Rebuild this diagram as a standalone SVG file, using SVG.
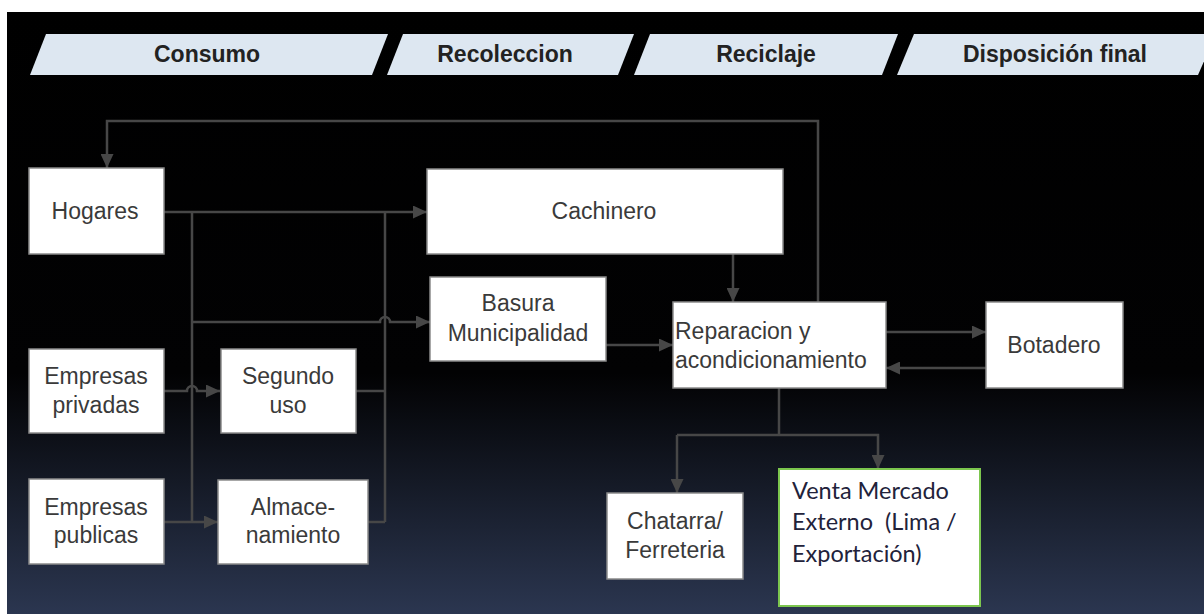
<svg xmlns="http://www.w3.org/2000/svg" width="1204" height="614" viewBox="0 0 1204 614">
<defs>
<linearGradient id="bg" x1="0" y1="0" x2="0" y2="1">
<stop offset="0" stop-color="#000"/>
<stop offset="0.6" stop-color="#020203"/>
<stop offset="1" stop-color="#2b3650"/>
</linearGradient>
<marker id="ah" viewBox="0 0 14 13" refX="14" refY="6.5" markerWidth="14" markerHeight="13" markerUnits="userSpaceOnUse" orient="auto">
<path d="M0,0 L14,6.5 L0,13 Z" fill="#474747"/>
</marker>
<style>
.ban{fill:#dde7f1;}
.bt{font-family:"Liberation Sans",Arial,sans-serif;font-weight:bold;font-size:23px;fill:#222;text-anchor:middle;}
.box{fill:#fff;stroke:#8a8a8a;stroke-width:1.5;}
.t{font-family:"Liberation Sans",Arial,sans-serif;font-size:23px;fill:#3a3a3a;text-anchor:middle;}
.tl{font-family:"Liberation Sans",Arial,sans-serif;font-size:23px;fill:#3a3a3a;}
.tc{font-family:Lato,"Open Sans",sans-serif;font-size:23.5px;fill:#22223a;}
.c{fill:none;stroke:#474747;stroke-width:2.5;}
.ca{fill:none;stroke:#474747;stroke-width:2.5;marker-end:url(#ah);}
</style>
</defs>
<rect x="0" y="0" width="1204" height="614" fill="#fff"/>
<rect x="7" y="12" width="1197" height="602" fill="url(#bg)"/>

<g id="headers">
<polygon class="ban" points="46,34 388,34 372,75 30,75"/>
<text class="bt" x="207" y="62">Consumo</text>
<polygon class="ban" points="403,34 634,34 618,75 387,75"/>
<text class="bt" x="505" y="62">Recoleccion</text>
<polygon class="ban" points="650,34 898,34 882,75 634,75"/>
<text class="bt" x="766" y="62">Reciclaje</text>
<polygon class="ban" points="914,34 1216,34 1198,75 897,75"/>
<text class="bt" x="1055" y="62">Disposición final</text>
</g>

<g id="connectors">
<path class="ca" d="M818,302 V121 H107 V168"/>
<path class="ca" d="M164,212 H427"/>
<path class="c" d="M192,212 V522"/>
<path class="c" d="M385,212 V522"/>
<path class="ca" d="M192,322 H380 A5,5 0 0 1 390,322 H430"/>
<path class="ca" d="M164,391 H187 A5,5 0 0 1 197,391 H220"/>
<path class="ca" d="M164,522 H218"/>
<path class="c" d="M356,391 H385"/>
<path class="c" d="M368,522 H385"/>
<path class="ca" d="M733,254 V302"/>
<path class="ca" d="M606,345 H673"/>
<path class="ca" d="M886,332 H986"/>
<path class="ca" d="M986,368 H886"/>
<path class="c" d="M779,388 V435"/>
<path class="ca" d="M677,435 V493"/>
<path class="ca" d="M677,435 H878 V469"/>
</g>

<g id="hogares">
<rect class="box" x="29" y="168" width="135" height="86"/>
<text class="t" x="95" y="219">Hogares</text>
</g>
<g id="cachinero">
<rect class="box" x="427" y="169" width="356" height="85"/>
<text class="t" x="604" y="219">Cachinero</text>
</g>
<g id="basura">
<rect class="box" x="430" y="277" width="176" height="84"/>
<text class="t" x="518" y="311">Basura</text>
<text class="t" x="518" y="341">Municipalidad</text>
</g>
<g id="reparacion">
<rect class="box" x="673" y="302" width="213" height="86"/>
<text class="tl" x="675" y="339">Reparacion y</text>
<text class="tl" x="675" y="368">acondicionamiento</text>
</g>
<g id="botadero">
<rect class="box" x="986" y="302" width="137" height="86"/>
<text class="t" x="1054" y="353">Botadero</text>
</g>
<g id="empresas-privadas">
<rect class="box" x="29" y="349" width="135" height="84"/>
<text class="t" x="96" y="384">Empresas</text>
<text class="t" x="96" y="413">privadas</text>
</g>
<g id="segundo-uso">
<rect class="box" x="221" y="349" width="135" height="84"/>
<text class="t" x="288" y="384">Segundo</text>
<text class="t" x="288" y="413">uso</text>
</g>
<g id="empresas-publicas">
<rect class="box" x="29" y="479" width="135" height="85"/>
<text class="t" x="96" y="515">Empresas</text>
<text class="t" x="96" y="543">publicas</text>
</g>
<g id="almacenamiento">
<rect class="box" x="218" y="480" width="150" height="84"/>
<text class="t" x="293" y="515">Almace-</text>
<text class="t" x="293" y="543">namiento</text>
</g>
<g id="chatarra">
<rect class="box" x="607" y="493" width="136" height="86"/>
<text class="t" x="675" y="529">Chatarra/</text>
<text class="t" x="675" y="558">Ferreteria</text>
</g>
<g id="venta">
<rect x="779" y="469" width="201" height="137" fill="#fff" stroke="#7cc64e" stroke-width="2"/>
<text class="tc" x="792" y="499">Venta Mercado</text>
<text class="tc" x="792" y="530" xml:space="preserve">Externo  (Lima /</text>
<text class="tc" x="792" y="562">Exportación)</text>
</g>
</svg>
